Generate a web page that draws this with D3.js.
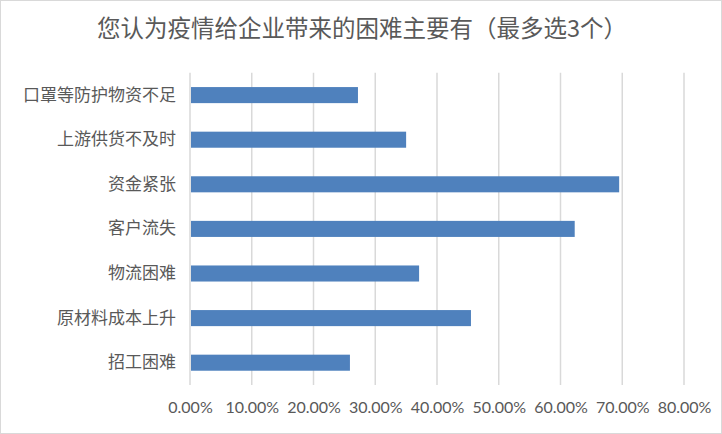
<!DOCTYPE html>
<html><head><meta charset="utf-8">
<script src="https://cdn.jsdelivr.net/npm/d3@7"></script>
<style>body{margin:0;background:#fff}svg{display:block}</style>
</head><body>
<svg id="c" width="722" height="434"></svg>
<script>
const title = "您认为疫情给企业带来的困难主要有（最多选3个）";
const categories = ["口罩等防护物资不足","上游供货不及时","资金紧张","客户流失","物流困难","原材料成本上升","招工困难"];
const values = [0.272, 0.350, 0.695, 0.623, 0.371, 0.455, 0.259];
const xTicks = [0,0.1,0.2,0.3,0.4,0.5,0.6,0.7,0.8];

(function(){
const svg = d3.select("#c");
const W = 722, H = 434;
svg.append("rect").attr("x",0.5).attr("y",0.5).attr("width",W-1).attr("height",H-1)
  .attr("fill","#fff").attr("stroke","#d9d9d9");

const pL = 190, pR = 684, pT = 72.8, pB = 385;
const x = d3.scaleLinear().domain([0,0.8]).range([pL,pR]);
const y = d3.scaleBand().domain(categories).range([pT,pB]).paddingInner(0.64).paddingOuter(0.32);

svg.append("text").attr("x",362).attr("y",37).attr("text-anchor","middle")
  .attr("font-family","'Noto Sans CJK SC'").attr("font-size",23.5).attr("fill","#595959")
  .text(title);

svg.append("g").selectAll("line").data(xTicks).join("line")
  .attr("x1",d=>x(d)).attr("x2",d=>x(d)).attr("y1",pT).attr("y2",pB)
  .attr("stroke","#d9d9d9").attr("stroke-width",1.5);

svg.append("g").selectAll("rect").data(categories).join("rect")
  .attr("x",x(0)+1).attr("y",d=>y(d))
  .attr("width",(d,i)=>x(values[i])-x(0)-1).attr("height",y.bandwidth())
  .attr("fill","#4F81BD");

const xa = svg.append("g").attr("transform",`translate(0,${pB})`)
  .call(d3.axisBottom(x).tickValues(xTicks).tickFormat(d3.format(".2%")).tickSize(0).tickPadding(17));
xa.select(".domain").remove();
xa.selectAll("text").attr("font-family","Lato, 'Liberation Sans', sans-serif").attr("font-size",16).attr("fill","#595959");

const ya = svg.append("g").attr("transform",`translate(${pL},0)`)
  .call(d3.axisLeft(y).tickSize(0).tickPadding(14));
ya.select(".domain").remove();
ya.selectAll("text").attr("font-family","'Noto Sans CJK SC'").attr("font-size",17).attr("fill","#595959");
})();
</script>
</body></html>
